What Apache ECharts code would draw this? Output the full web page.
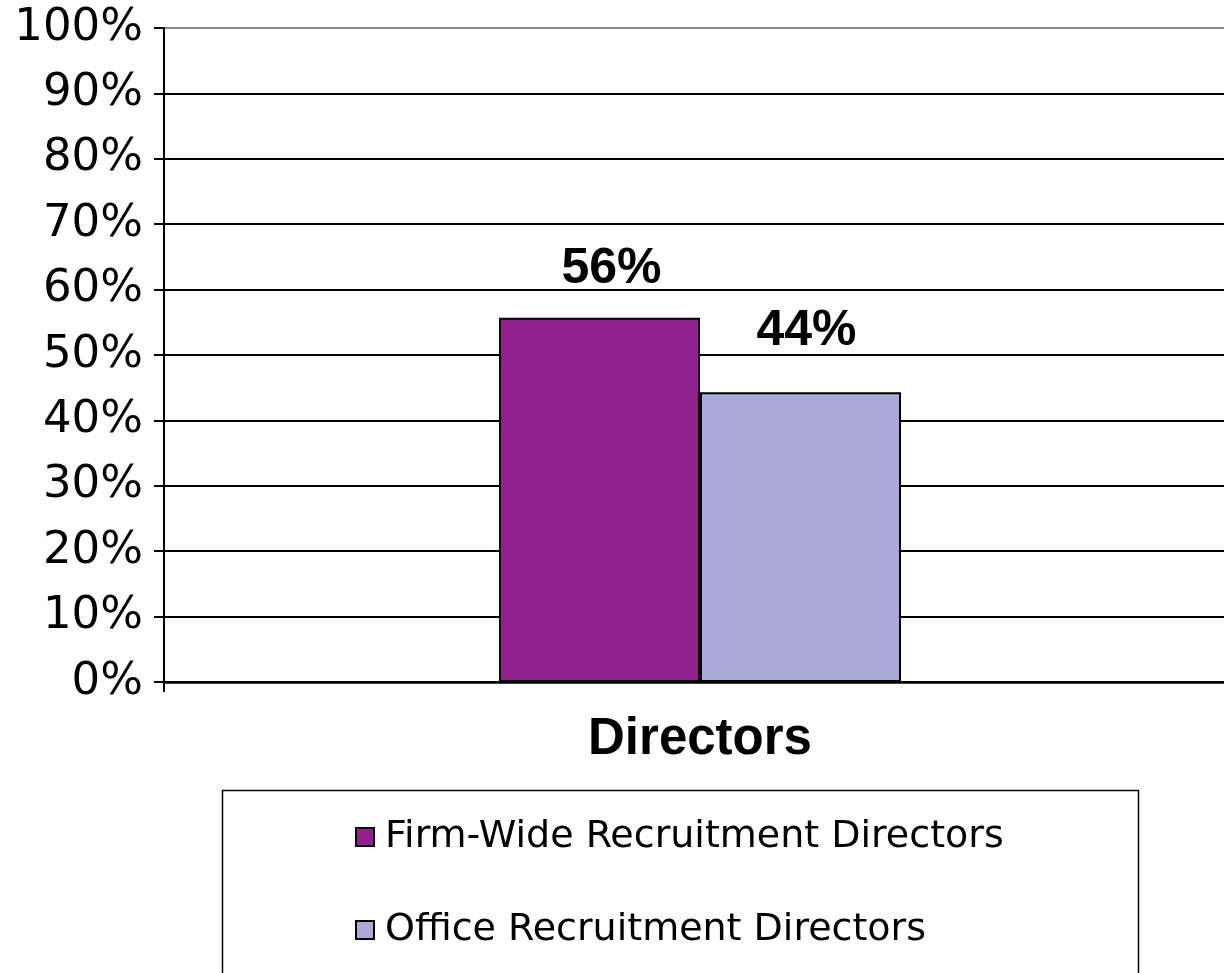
<!DOCTYPE html>
<html>
<head>
<meta charset="utf-8">
<script src="https://cdn.jsdelivr.net/npm/echarts@6/dist/echarts.min.js"></script>
<style>
    html, body { margin: 0; padding: 0; background: #fff; }
    #chart { width: 1224px; height: 973px; }
</style>
</head>
<body>
<div id="chart"></div>
<script>
    // data
    var categories = ['Directors'];
    var seriesNames = ['Firm-Wide Recruitment Directors', 'Office Recruitment Directors'];
    var firmWide = [55.7];
    var office = [44.3];
    var colors = ['#922190', '#A9AAD7'];

    var chartDom = document.getElementById('chart');
    var myChart = echarts.init(chartDom);

    var gridColors = ['#000', '#000', '#000', '#000', '#000', '#000', '#000', '#000', '#000', '#000', '#8a8a8a'];

    function barLabel(distance, dx) {
        return {
            show: true,
            position: 'top',
            distance: distance,
            offset: [dx, 0],
            color: '#000',
            fontFamily: 'Liberation Sans',
            fontWeight: 'bold',
            fontSize: 50,
            formatter: function (p) { return Math.round(p.value) + '%'; }
        };
    }

    var option = {
        animation: false,
        backgroundColor: '#fff',
        grid: {
            left: 164,
            right: -12,
            top: 28,
            bottom: 291,
            containLabel: false,
            outerBoundsMode: 'none'
        },
        legend: {
            orient: 'vertical',
            left: 355,
            top: 818,
            padding: 0,
            itemWidth: 18,
            itemHeight: 18,
            itemGap: 55,
            icon: 'rect',
            itemStyle: { borderColor: '#000', borderWidth: 2 },
            textStyle: {
                color: '#000',
                fontFamily: 'DejaVu Sans',
                fontSize: 38,
                padding: [0, 0, 0, 6]
            },
            data: seriesNames
        },
        graphic: [{
            type: 'rect',
            left: 220,
            top: 788,
            shape: { width: 916, height: 200 },
            style: { fill: 'none', stroke: '#000', lineWidth: 1.5 },
            silent: true
        }],
        xAxis: {
            type: 'category',
            data: categories,
            axisLine: { lineStyle: { color: '#000', width: 2.5 } },
            axisTick: { show: true, length: 10, lineStyle: { color: '#000', width: 2 } },
            axisLabel: {
                margin: 32,
                color: '#000',
                fontFamily: 'Liberation Sans',
                fontWeight: 'bold',
                fontSize: 51
            }
        },
        yAxis: {
            type: 'value',
            min: 0,
            max: 100,
            interval: 10,
            axisLine: { show: true, lineStyle: { color: '#000', width: 2 } },
            axisTick: { show: true, length: 10, lineStyle: { color: '#000', width: 2 } },
            axisLabel: {
                margin: 21,
                color: '#000',
                fontFamily: 'DejaVu Sans',
                fontSize: 45,
                formatter: '{value}%'
            },
            splitLine: { show: true, lineStyle: { color: gridColors, width: 2 } }
        },
        series: [
            {
                name: seriesNames[0],
                type: 'bar',
                data: firmWide,
                barGap: '0%',
                barCategoryGap: '62.5%',
                itemStyle: { color: colors[0], borderColor: '#000', borderWidth: 2 },
                label: barLabel(24, 12)
            },
            {
                name: seriesNames[1],
                type: 'bar',
                data: office,
                itemStyle: { color: colors[1], borderColor: '#000', borderWidth: 2 },
                label: barLabel(36, 6)
            }
        ]
    };

    option && myChart.setOption(option);
</script>
</body>
</html>
